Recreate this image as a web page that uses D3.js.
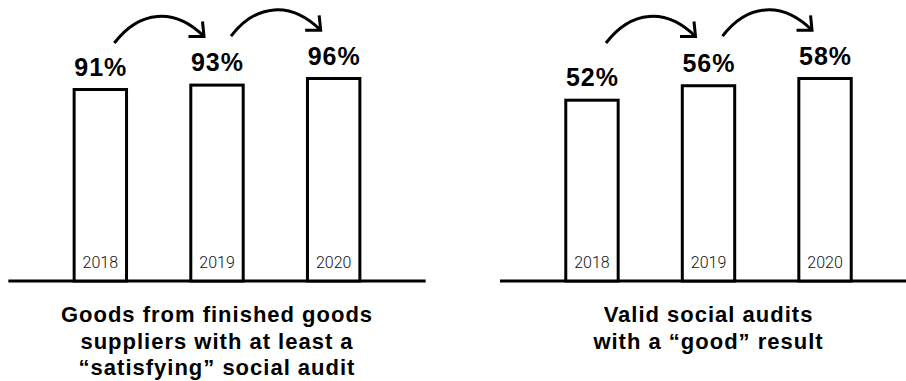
<!DOCTYPE html>
<html>
<head>
<meta charset="utf-8">
<script src="https://cdn.jsdelivr.net/npm/d3@7"></script>
<style>
  html, body { margin: 0; padding: 0; background: #fff; }
  svg { display: block; }
</style>
</head>
<body>
<svg id="chart" width="906" height="381"></svg>
<script>
// Years shown on every bar
const years = ["2018", "2019", "2020"];

// Share of goods from finished goods suppliers with at least a "satisfying" social audit (%)
const satisfyingAuditShare = [91, 93, 96];
// Share of valid social audits with a "good" result (%)
const goodResultShare = [52, 56, 58];

// Panel captions, one entry per line
const satisfyingTitle = ["Goods from finished goods", "suppliers with at least a", "“satisfying” social audit"];
const goodTitle = ["Valid social audits", "with a “good” result"];

const svg = d3.select("#chart");
const baseY = 281;     // baseline of both panels
const topY = 78.5;     // top of the tallest bar

const panels = [
  { values: satisfyingAuditShare, title: satisfyingTitle, floor: 4, range: [42, 392] },
  { values: goodResultShare, title: goodTitle, floor: 2, range: [533.7, 883.3] }
];

const boldFont = "'Liberation Sans', Arial, Helvetica, sans-serif";

panels.forEach(p => {
  const g = svg.append("g");

  const x = d3.scaleBand()
    .domain(years)
    .range(p.range)
    .paddingInner(0.55)
    .paddingOuter(0.275);

  const y = d3.scaleLinear()
    .domain([p.floor, d3.max(p.values)])
    .range([baseY, topY]);

  const barW = 52.4;
  const cx = yr => x(yr) + x.bandwidth() / 2;
  const rows = years.map((yr, i) => ({ year: yr, value: p.values[i] }));

  // baseline
  const x0 = cx(years[0]) - 92, x1 = cx(years[years.length - 1]) + 92;
  g.append("line")
    .attr("x1", x0).attr("x2", x1)
    .attr("y1", baseY).attr("y2", baseY)
    .attr("stroke", "#000").attr("stroke-width", 3);

  // outlined bars
  g.selectAll("rect.bar").data(rows).join("rect")
    .attr("class", "bar")
    .attr("x", d => cx(d.year) - barW / 2)
    .attr("y", d => y(d.value))
    .attr("width", barW)
    .attr("height", d => baseY - y(d.value))
    .attr("fill", "#fff")
    .attr("stroke", "#000")
    .attr("stroke-width", 3);

  // year inside each bar
  g.selectAll("text.year").data(rows).join("text")
    .attr("class", "year")
    .attr("x", d => cx(d.year))
    .attr("y", 267.5)
    .attr("text-anchor", "middle")
    .attr("font-family", "Roboto, 'Liberation Sans', sans-serif")
    .attr("font-weight", 300)
    .attr("font-size", 16)
    .attr("fill", "#111")
    .text(d => d.year);

  // value above each bar
  g.selectAll("text.value").data(rows).join("text")
    .attr("class", "value")
    .attr("x", d => cx(d.year) + 0.5)
    .attr("y", d => y(d.value) - 14)
    .attr("text-anchor", "middle")
    .attr("font-family", boldFont)
    .attr("font-weight", 700)
    .attr("font-size", 25)
    .attr("letter-spacing", 1)
    .attr("fill", "#000")
    .text(d => d.value + "%");

  // curved arrows between consecutive years
  for (let i = 0; i < years.length - 1; i++) {
    const sx = cx(years[i]) + 14, sy = 43 - 6.8 * i;
    const tx = cx(years[i + 1]) - 13, ty = 36.5 - 6.2 * i;
    const path = d3.path();
    path.moveTo(sx, sy);
    path.bezierCurveTo(sx + 25, sy - 32.7, tx - 29.6, ty - 29.6, tx, ty);
    g.append("path")
      .attr("d", path.toString())
      .attr("fill", "none")
      .attr("stroke", "#000")
      .attr("stroke-width", 3);
    g.append("path")
      .attr("d", `M${tx - 1.5},${ty - 15}L${tx},${ty}L${tx - 15.5},${ty}`)
      .attr("fill", "none")
      .attr("stroke", "#000")
      .attr("stroke-width", 3)
      .attr("stroke-linejoin", "miter");
  }

  // caption under the baseline
  const midX = cx(years[1]);
  const cap = g.append("text")
    .attr("text-anchor", "middle")
    .attr("font-family", boldFont)
    .attr("font-weight", 700)
    .attr("font-size", 22)
    .attr("letter-spacing", 1)
    .attr("fill", "#000");
  p.title.forEach((line, i) => {
    cap.append("tspan")
      .attr("x", midX)
      .attr("y", 322 + i * 26.5)
      .text(line);
  });
});
</script>
</body>
</html>
